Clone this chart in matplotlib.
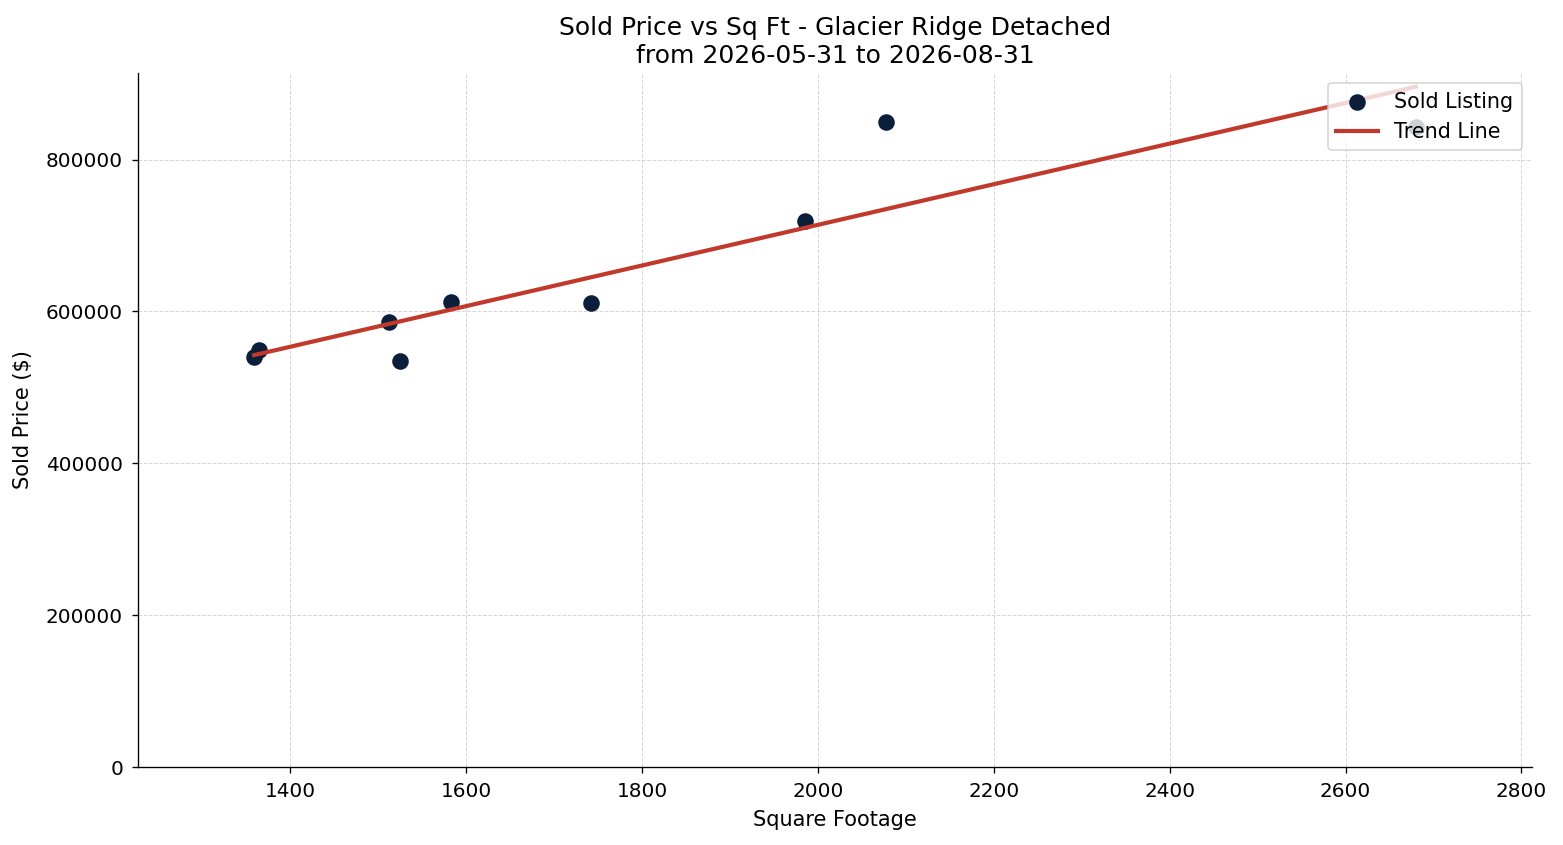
import numpy as np
import matplotlib
matplotlib.use("Agg")
import matplotlib.pyplot as plt

sqft = [1359, 1365, 1512, 1525, 1583, 1742, 1985, 2078, 2680]
price = [540000, 549000, 586000, 534500, 612500, 611000, 719500, 850000, 843500]

fig, ax = plt.subplots(figsize=(13.025, 7.042), dpi=120)
fig.subplots_adjust(left=0.0883, right=0.9802, top=0.9136, bottom=0.0923)

ax.scatter(sqft, price, s=80, color="#0b1f3a", label="Sold Listing", zorder=2)

# linear trend
m, b = np.polyfit(sqft, price, 1)
xs = np.array([min(sqft), max(sqft)])
ax.plot(xs, m * xs + b, color="#c0392b", linewidth=2.5, label="Trend Line", zorder=3)

pad = (max(sqft) - min(sqft)) * 0.1
ax.set_xlim(min(sqft) - pad, max(sqft) + pad)
ax.set_ylim(bottom=0)
ax.set_title("Sold Price vs Sq Ft - Glacier Ridge Detached\nfrom 2026-05-31 to 2026-08-31",
             fontsize=15)
ax.set_xlabel("Square Footage", fontsize=12.5, labelpad=5.5)
ax.set_ylabel("Sold Price ($)", fontsize=12.5, labelpad=8)
ax.tick_params(labelsize=12, pad=5.5)
ax.grid(True, linestyle="--", linewidth=0.6, color="#cccccc", alpha=0.8)
ax.spines["top"].set_visible(False)
ax.spines["right"].set_visible(False)
ax.legend(loc="upper right", fontsize=12.4)

plt.savefig("out.png")
